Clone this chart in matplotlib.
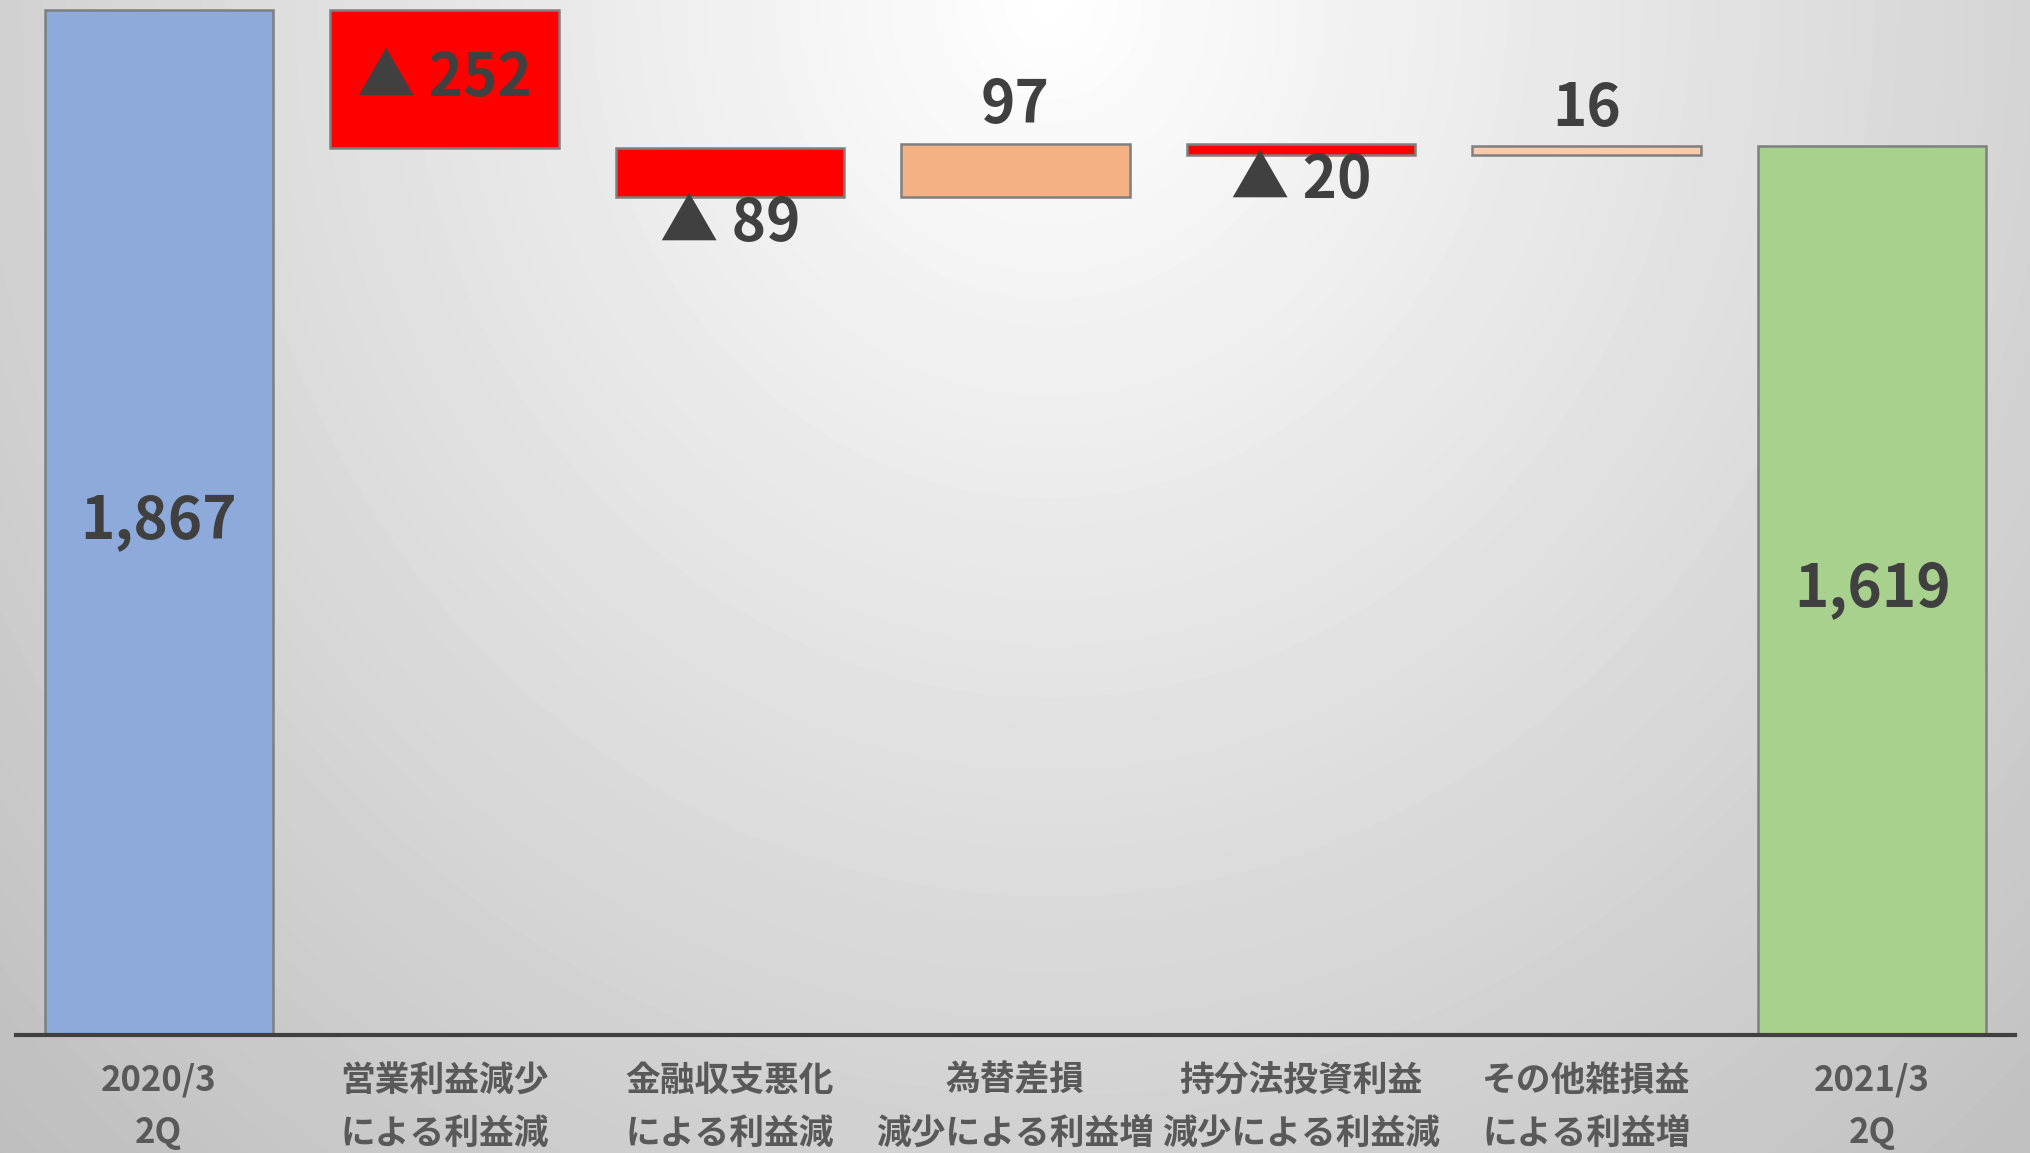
import numpy as np
import matplotlib
matplotlib.use("Agg")
from matplotlib import pyplot as plt

plt.rcParams['font.family'] = ['Noto Sans CJK JP', 'DejaVu Sans']

# dane
kategorie = [("2020/3", "2Q"),
             ("営業利益減少", "による利益減"),
             ("金融収支悪化", "による利益減"),
             ("為替差損", "減少による利益増"),
             ("持分法投資利益", "減少による利益減"),
             ("その他雑損益", "による利益増"),
             ("2021/3", "2Q")]
poczatek = 1867
zmiany = [-252, -89, 97, -20, 16]
koniec = 1619
kolory = ['#8EAADB', '#FF0000', '#FF0000', '#F4B183', '#FF0000', '#F8CBAD', '#A9D18E']

# waterfall: dolne krawedzie i wysokosci
poziom = np.cumsum([poczatek] + zmiany)
dol = [0]
wys = [poczatek]
for i, z in enumerate(zmiany):
    dol.append(min(poziom[i], poziom[i + 1]))
    wys.append(abs(z))
dol.append(0)
wys.append(koniec)
x = np.arange(len(kategorie))

W, H = 2031, 1153
fig = plt.figure(figsize=(W / 100, H / 100), dpi=100)

# tlo - gradient
bg = fig.add_axes([0, 0, 1, 1], zorder=-1)
yy, xx = np.mgrid[0:H, 0:W]
r = np.sqrt((0.0435 * (xx - 1050)) ** 2 + (0.040 * yy) ** 2)
v = np.clip(255 - r, 150, 255) / 255.0
bg.imshow(v, cmap='gray', vmin=0, vmax=1, aspect='auto', interpolation='bilinear')
bg.axis('off')

ax = fig.add_axes([16 / W, 118 / H, (2015 - 16) / W, 1 - 118 / H])
ax.set_facecolor('none')
ax.bar(x, wys, bottom=dol, width=0.8, color=kolory, edgecolor='#7F7F7F', linewidth=1.8, zorder=2)
ax.set_xlim(-0.5, 6.5)
ax.set_ylim(0, 1885)
for s in ['top', 'right', 'left']:
    ax.spines[s].set_visible(False)
ax.spines['bottom'].set_color('#404040')
ax.spines['bottom'].set_linewidth(3)
ax.set_xticks([])
ax.set_yticks([])

kolor_txt = '#404040'
fs = 42
# sumy w srodku slupka
ax.text(0, poczatek / 2, f"{poczatek:,}", ha='center', va='center', fontsize=fs,
        fontweight='bold', color=kolor_txt)
ax.text(6, koniec / 2, f"{koniec:,}", ha='center', va='center', fontsize=fs,
        fontweight='bold', color=kolor_txt)

# zmiany
for i, z in enumerate(zmiany):
    k = i + 1
    txt = f"▲ {abs(z)}" if z < 0 else f"{z}"
    if k == 1:
        ax.text(k, dol[k] + wys[k] / 2, txt, ha='center', va='center', fontsize=fs,
                fontweight='bold', color=kolor_txt)
    elif z < 0:
        ax.annotate(txt, (k, dol[k]), xytext=(0, -19), textcoords='offset points',
                    ha='center', va='center', fontsize=fs, fontweight='bold', color=kolor_txt)
    else:
        ax.annotate(txt, (k, dol[k] + wys[k]), xytext=(0, 27), textcoords='offset points',
                    ha='center', va='center', fontsize=fs, fontweight='bold', color=kolor_txt)

# podpisy kategorii
tr = ax.get_xaxis_transform()
for k, (l1, l2) in enumerate(kategorie):
    ax.text(k, -45 / 1035, l1, transform=tr, ha='center', va='center', fontsize=25,
            fontweight='bold', color='#595959', clip_on=False)
    ax.text(k, -98 / 1035, l2, transform=tr, ha='center', va='center', fontsize=25,
            fontweight='bold', color='#595959', clip_on=False)

fig.savefig('out.png', dpi=100)
